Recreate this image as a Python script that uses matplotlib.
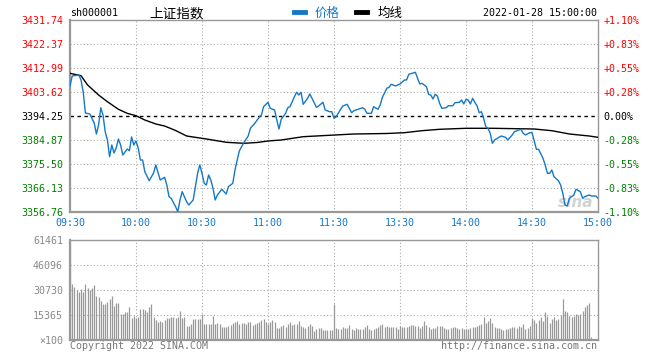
import matplotlib.pyplot as plt
from matplotlib.lines import Line2D

plt.rcParams['font.family'] = ['DejaVu Sans Mono', 'Noto Sans CJK SC']

# minutes since 09:30 (lunch break removed) and index level
price_min = [0, 1, 4, 5, 6, 7, 9, 11, 12, 13, 14, 15, 16, 17, 18, 19, 20, 21, 22, 23,
             24, 26, 27, 28, 29, 30, 31, 32, 33, 34, 36, 38, 39, 41, 43, 44, 45, 46, 48, 49,
             50, 51, 53, 54, 56, 57, 58, 59, 60, 61, 62, 63, 64, 65, 66, 67, 69, 70, 71, 72,
             74, 75, 76, 77, 79, 81, 82, 84, 86, 87, 88, 90, 91, 93, 94, 95, 96, 98, 99, 100,
             102, 103, 104, 105, 106, 108, 109, 110, 112, 113, 115, 116, 118, 119, 120, 121, 123, 124, 126, 128,
             129, 131, 133, 134, 135, 137, 138, 140, 141, 142, 144, 145, 146, 148, 150, 152, 153, 154, 157, 158,
             159, 160, 162, 163, 164, 165, 166, 167, 168, 169, 171, 172, 174, 175, 177, 178, 179, 180, 181, 182,
             183, 184, 185, 186, 187, 188, 189, 190, 191, 192, 193, 195, 196, 198, 199, 201, 202, 204, 205, 206,
             207, 209, 210, 211, 212, 213, 215, 216, 217, 218, 219, 220, 222, 223, 224, 225, 226, 227, 229, 230,
             232, 233, 234, 236, 237, 239, 240]
price = [3405.97, 3409.87, 3410.26, 3408.31, 3403.62, 3395.42, 3395.03, 3391.52, 3387.22, 3390.74,
         3397.49, 3394.64, 3388.12, 3384.88, 3378.36, 3382.93, 3379.80, 3381.75, 3385.27, 3382.93,
         3379.02, 3381.36, 3380.70, 3386.05, 3382.93, 3384.49, 3381.75, 3377.07, 3377.07, 3372.50,
         3368.98, 3371.99, 3375.12, 3369.26, 3370.31, 3367.31, 3362.74, 3362.11, 3358.83, 3356.88,
         3361.45, 3364.69, 3360.78, 3359.50, 3361.45, 3366.64, 3371.87, 3375.12, 3371.87, 3367.97,
         3367.31, 3371.21, 3369.26, 3366.02, 3361.45, 3363.40, 3365.63, 3364.69, 3363.79, 3366.64,
         3367.97, 3373.16, 3377.07, 3380.70, 3383.82, 3386.44, 3389.45, 3391.40, 3393.74, 3394.64,
         3397.88, 3399.60, 3397.26, 3396.59, 3392.69, 3389.17, 3392.96, 3395.30, 3397.49, 3397.88,
         3401.79, 3403.51, 3402.45, 3403.51, 3398.82, 3401.16, 3402.84, 3401.16, 3397.65, 3398.16,
         3399.60, 3396.59, 3395.93, 3395.93, 3393.35, 3393.98, 3396.87, 3398.16, 3398.82, 3395.54,
         3396.32, 3396.87, 3397.49, 3396.87, 3395.30, 3395.30, 3397.88, 3396.87, 3398.55, 3401.55,
         3405.07, 3405.46, 3406.63, 3405.97, 3406.75, 3408.31, 3408.31, 3410.53, 3411.32, 3408.97,
         3406.75, 3407.02, 3405.69, 3402.72, 3402.45, 3400.89, 3402.72, 3402.06, 3399.21, 3397.26,
         3397.49, 3398.27, 3398.27, 3399.44, 3399.60, 3400.50, 3398.94, 3400.77, 3400.50, 3398.94,
         3401.16, 3399.60, 3398.27, 3395.54, 3395.93, 3393.35, 3390.07, 3389.45, 3387.49, 3383.59,
         3384.88, 3385.93, 3386.44, 3385.93, 3384.88, 3386.83, 3388.12, 3388.78, 3389.06, 3387.49,
         3386.83, 3387.73, 3387.73, 3384.60, 3381.25, 3381.25, 3377.73, 3375.12, 3371.87, 3371.87,
         3373.16, 3370.55, 3368.98, 3367.31, 3364.06, 3359.50, 3359.10, 3362.11, 3363.40, 3365.63,
         3364.69, 3362.11, 3362.74, 3363.40, 3363.01, 3363.01, 3362.11]

avg_min = [0, 5, 8, 13, 17, 22, 26, 30, 34, 39, 43, 48, 53, 62, 71, 79, 85, 90, 96, 106,
           129, 144, 152, 160, 168, 180, 192, 211, 219, 227, 236, 240]
avg = [3410.92, 3409.99, 3406.36, 3402.45, 3399.83, 3396.87, 3395.30, 3394.37, 3392.69, 3391.13,
       3390.34, 3388.59, 3386.44, 3385.27, 3383.98, 3383.59, 3383.90, 3384.49, 3384.88, 3386.17,
       3387.22, 3387.42, 3387.73, 3388.51, 3389.06, 3389.45, 3389.45, 3389.17, 3388.51, 3387.22,
       3386.44, 3385.93]

# volume per minute (x100)
vol = [61461,
       34200, 32600, 30700, 29700, 31400, 29700, 34200, 32200, 30500, 31800,
       33800, 27300, 26600, 24000, 22100, 21900, 23600, 25200, 27300, 21100,
       22900, 22900, 15800, 15800, 17400, 17000, 20500, 13700, 15000, 13300,
       14300, 19100, 19100, 18400, 17000, 20500, 22100, 14300, 12300, 11300,
       11700, 11300, 12300, 13700, 13700, 13900, 14300, 13700, 14300, 17800,
       13300, 14300, 8800, 8600, 9800, 12900, 12900, 12900, 12900, 15800,
       9600, 10000, 9600, 9600, 15000, 9600, 10200, 9800, 7800, 8000,
       8200, 8600, 9200, 10200, 10900, 11700, 10000, 10700, 10200, 10000,
       11300, 11100, 9200, 9600, 10700, 11300, 12300, 12900, 11300, 9600,
       10900, 12300, 11300, 7600, 7600, 8600, 9200, 8200, 9600, 11300,
       9200, 9600, 10000, 11700, 8600, 8000, 7200, 8600, 9600, 8600,
       5500, 6800, 7600, 7200, 6100, 6100, 6100,
       6100, 6100, 22100,
       7600, 6800, 6800, 8200, 7600, 7600, 9200, 6800, 6100, 7200,
       6800, 6800, 6800, 8200, 9200, 6800, 6100, 6800, 7600, 8200,
       9200, 9800, 8200, 8600, 8200, 7800, 7800, 8200,
       6800, 8800, 8200, 7800, 8200, 8800, 9200, 9200, 8800, 8800, 7600, 8800,
       11700, 9200, 7800, 6800, 7600, 7600, 8800, 8800, 8800, 7600,
       6800, 6800, 7200, 8200, 7800, 7200, 6800, 7200, 6800, 6800,
       6800, 7200, 7800, 8200, 8800, 9200, 9800,
       14300, 10200, 11700, 13300, 10700, 8200, 7600, 7200, 6800, 6100,
       6800, 6800, 7200, 7800, 7800, 7600, 8600, 7800, 10000, 6800, 7600, 8800,
       13700, 12300, 10700, 12300, 14300, 11900, 17000, 14800, 10700, 12700,
       14300, 12300, 12900, 15400, 25200, 18000, 17000, 15000, 14000, 15000,
       15800, 15400, 15800, 17800, 20100, 21500, 22500, 1600]

price_ticks = [3356.76, 3366.13, 3375.50, 3384.87, 3394.25, 3403.62, 3412.99, 3422.37, 3431.74]
pct_labels = ['-1.10%', '-0.83%', '-0.55%', '-0.28%', '0.00%', '+0.28%', '+0.55%', '+0.83%', '+1.10%']
time_ticks = [0, 30, 60, 90, 120, 150, 180, 210, 240]
time_labels = ['09:30', '10:00', '10:30', '11:00', '11:30', '13:30', '14:00', '14:30', '15:00']
vol_ticks = [0, 15365, 30730, 46096, 61461]
vol_labels = ['×100', '15365', '30730', '46096', '61461']

prev_close = 3394.25
blue = '#1478c8'
gridc = '#aaaaaa'
fs = 7.2

fig = plt.figure(figsize=(6.6, 3.6), dpi=100)

# ---- price panel
ax = fig.add_axes([70/660, 1 - 212/360, 528/660, 192/360])
ax.set_xlim(0, 240)
ax.set_ylim(price_ticks[0], price_ticks[-1])
for t in time_ticks[1:-1]:
    ax.axvline(t, color=gridc, ls=(0, (1, 2)), lw=0.8, zorder=1)
for p in price_ticks[1:-1]:
    if p == prev_close:
        ax.axhline(p, color='black', ls=(0, (2.5, 2.5)), lw=1, zorder=1)
    else:
        ax.axhline(p, color=gridc, ls=(0, (1, 2)), lw=0.8, zorder=1)

ax.plot(avg_min, avg, color='black', lw=1.0, zorder=3)
ax.plot(price_min, price, color=blue, lw=1.0, zorder=4)

ax.text(238, 3360.5, 'sina', fontsize=11, fontstyle='italic', fontweight='bold',
        family='DejaVu Sans', color='#c0c0c0', alpha=0.7, ha='right', va='center', zorder=2)

for s in ax.spines.values():
    s.set_color('#999999')
    s.set_linewidth(1)
ax.spines['left'].set_linewidth(1.6)
ax.spines['bottom'].set_linewidth(1.6)

ax.set_yticks(price_ticks)
ax.set_yticklabels(['%.2f' % p for p in price_ticks])
for lab, p in zip(ax.get_yticklabels(), price_ticks):
    lab.set_color('red' if p > prev_close else ('black' if p == prev_close else 'green'))
ax.set_xticks(time_ticks)
ax.set_xticklabels(time_labels, color=blue)
ax.tick_params(length=0, labelsize=fs)
ax.tick_params(axis='y', pad=5)
ax.tick_params(axis='x', pad=4)

ax2 = ax.twinx()
ax2.set_ylim(price_ticks[0], price_ticks[-1])
ax2.set_yticks(price_ticks)
ax2.set_yticklabels(pct_labels)
for lab, p in zip(ax2.get_yticklabels(), price_ticks):
    lab.set_color('red' if p > prev_close else ('black' if p == prev_close else 'green'))
ax2.tick_params(length=0, labelsize=fs, pad=4)
for s in ax2.spines.values():
    s.set_visible(False)

# ---- volume panel
axv = fig.add_axes([70/660, 20/360, 528/660, 100/360])
axv.set_xlim(0, 240)
axv.set_ylim(0, vol_ticks[-1])
for t in time_ticks[1:-1]:
    axv.axvline(t, color=gridc, ls=(0, (1, 2)), lw=0.8, zorder=1)
for v in vol_ticks[1:-1]:
    axv.axhline(v, color=gridc, ls=(0, (1, 2)), lw=0.8, zorder=1)
axv.vlines(range(len(vol)), 0, vol, color='#999999', lw=0.9, zorder=2)
for s in axv.spines.values():
    s.set_color('#999999')
    s.set_linewidth(1)
axv.spines['left'].set_linewidth(1.6)
axv.spines['bottom'].set_linewidth(1.6)
axv.set_xticks([])
axv.set_yticks(vol_ticks)
axv.set_yticklabels(vol_labels, color='#888888')
axv.tick_params(length=0, labelsize=fs, pad=5)

# ---- header and footer
fig.text(70/660, 1 - 13/360, 'sh000001', fontsize=fs, va='center', ha='left')
fig.text(177/660, 1 - 13/360, '上证指数', fontsize=9.8, family='Noto Sans CJK SC',
         va='center', ha='center')
fig.text(597/660, 1 - 13/360, '2022-01-28 15:00:00', fontsize=fs, va='center', ha='right')
handles = [Line2D([], [], color=blue, lw=3.5), Line2D([], [], color='black', lw=3.5)]
leg = fig.legend(handles, ['价格', '均线'], loc='center', bbox_to_anchor=(348/660, 1 - 13/360),
                 ncol=2, frameon=False, handlelength=0.9, handletextpad=0.8, columnspacing=1.3,
                 prop={'family': 'Noto Sans CJK SC', 'size': 9})
leg.get_texts()[0].set_color(blue)

fig.text(70/660, 1 - 346/360, 'Copyright 2022 SINA.COM', fontsize=fs, color='#777777',
         va='center', ha='left')
fig.text(597/660, 1 - 346/360, 'http://finance.sina.com.cn', fontsize=fs, color='#777777',
         va='center', ha='right')

fig.savefig('out.png', dpi=100)
